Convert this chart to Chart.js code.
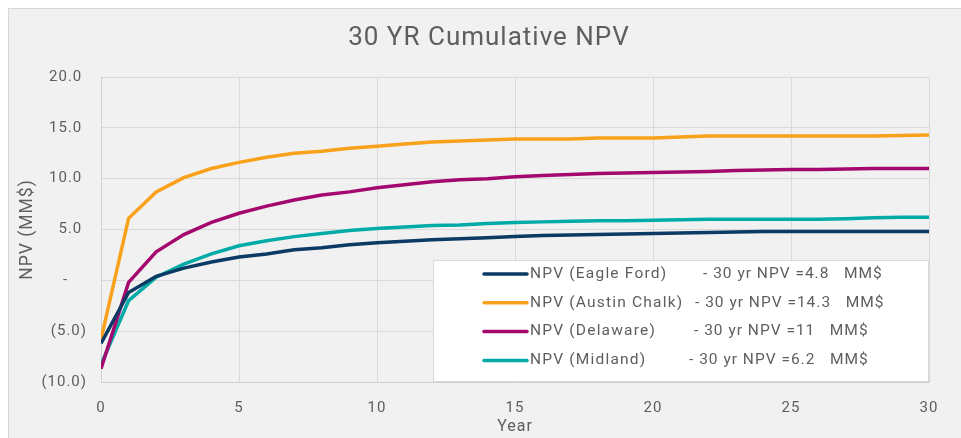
<!DOCTYPE html>
<html>
<head>
<meta charset="utf-8">
<script src="https://cdn.jsdelivr.net/npm/chart.js@4"></script>
<style>
  html, body { margin: 0; padding: 0; background: #fff; }
  #wrap { width: 961px; height: 438px; }
</style>
</head>
<body>
<div id="wrap"><canvas id="npvChart" width="961" height="438"></canvas></div>
<script>
const years = [];
for (let i = 0; i <= 30; i++) years.push(i);

const chartTitle = "30 YR Cumulative NPV";
const seriesNames = ["NPV (Eagle Ford)", "NPV (Austin Chalk)", "NPV (Delaware)", "NPV (Midland)"];
const npv30 = ["4.8", "14.3", "11", "6.2"];

const eagleFord = [-6.2, -1.2, 0.4, 1.2, 1.8, 2.3, 2.6, 3.0, 3.2, 3.5, 3.7, 3.85, 4.0, 4.1, 4.2, 4.3,
  4.4, 4.45, 4.5, 4.55, 4.6, 4.65, 4.7, 4.75, 4.8, 4.8, 4.8, 4.8, 4.8, 4.8, 4.8];
const austinChalk = [-5.8, 6.1, 8.7, 10.1, 11.0, 11.6, 12.1, 12.5, 12.7, 13.0, 13.2, 13.4, 13.6, 13.7, 13.8, 13.9,
  13.9, 13.9, 14.0, 14.0, 14.0, 14.1, 14.2, 14.2, 14.2, 14.2, 14.2, 14.2, 14.2, 14.25, 14.3];
const delaware = [-8.7, -0.2, 2.8, 4.5, 5.7, 6.6, 7.3, 7.9, 8.4, 8.7, 9.1, 9.4, 9.7, 9.9, 10.0, 10.2,
  10.3, 10.4, 10.5, 10.55, 10.6, 10.65, 10.7, 10.8, 10.85, 10.9, 10.9, 10.95, 11.0, 11.0, 11.0];
const midland = [-8.3, -2.0, 0.3, 1.6, 2.6, 3.4, 3.9, 4.3, 4.6, 4.9, 5.1, 5.25, 5.4, 5.45, 5.6, 5.7,
  5.75, 5.8, 5.85, 5.85, 5.9, 5.95, 6.0, 6.0, 6.0, 6.0, 6.0, 6.05, 6.15, 6.2, 6.2];

const colors = ["#0b3a64", "#f9a11b", "#a4086e", "#00aaa6"];
const allSeries = [eagleFord, austinChalk, delaware, midland];

const textColor = "#5e5e5e";
const fontFamily = "Roboto, 'DejaVu Sans', sans-serif";

// gray panel behind the chart + title (DIN-ish spacing)
const panelBg = {
  id: "panelBg",
  beforeDraw(chart) {
    const c = chart.ctx;
    c.save();
    c.fillStyle = "#ffffff";
    c.fillRect(0, 0, chart.width, chart.height);
    c.fillStyle = "#f1f1f1";
    c.fillRect(8, 8, chart.width, chart.height);
    c.strokeStyle = "#d6d6d6";
    c.lineWidth = 1;
    c.strokeRect(8.5, 8.5, chart.width, chart.height);
    c.fillStyle = textColor;
    c.font = "26px " + fontFamily;
    c.letterSpacing = "1px";
    c.textAlign = "center";
    c.textBaseline = "middle";
    c.fillText(chartTitle, 489, 38);
    c.restore();
    c.letterSpacing = "1px";
  },
};

// white legend box inside the plot area
const boxLegend = {
  id: "boxLegend",
  afterDatasetsDraw(chart) {
    const c = chart.ctx;
    const area = chart.chartArea;
    const x0 = 433, y0 = 260;
    const w = area.right - x0, h = area.bottom - y0;
    c.save();
    c.fillStyle = "#ffffff";
    c.fillRect(x0, y0, w, h);
    c.strokeStyle = "#d9d9d9";
    c.strokeRect(x0 + 0.5, y0 + 0.5, w - 1, h - 1);
    const tailX = [703, 695, 694, 689];
    c.font = "15.5px " + fontFamily;
    c.textBaseline = "middle";
    chart.data.datasets.forEach((ds, i) => {
      const y = 274 + i * 28.8;
      c.strokeStyle = ds.borderColor;
      c.lineWidth = 3.5;
      c.lineCap = "round";
      c.beginPath();
      c.moveTo(484, y);
      c.lineTo(527, y);
      c.stroke();
      c.fillStyle = textColor;
      c.letterSpacing = "1.2px";
      c.fillText(ds.label, 530, y);
      c.letterSpacing = "1px";
      c.fillText("- 30 yr NPV =" + npv30[i] + "   MM$", tailX[i], y);
    });
    c.restore();
  },
};

new Chart(document.getElementById("npvChart"), {
  type: "line",
  data: {
    datasets: allSeries.map((vals, i) => ({
      label: seriesNames[i],
      data: vals.map((v, k) => ({ x: years[k], y: v })),
      borderColor: colors[i],
      backgroundColor: colors[i],
      borderWidth: 3.5,
      pointRadius: 0,
      tension: 0,
      fill: false,
    })),
  },
  options: {
    responsive: false,
    animation: false,
    layout: { padding: { left: 8, top: 77, right: 32, bottom: 0 } },
    plugins: {
      legend: { display: false },
      tooltip: { enabled: false },
      title: { display: false },
    },
    scales: {
      x: {
        type: "linear",
        min: 0,
        max: 30,
        afterFit: (s) => { s.height = 56; },
        grid: { color: "#d9d9d9", drawTicks: false },
        border: { color: "#d0d0d0" },
        ticks: {
          stepSize: 5,
          padding: 17,
          color: textColor,
          font: { family: fontFamily, size: 15 },
        },
        title: {
          display: true,
          text: "Year",
          color: textColor,
          font: { family: fontFamily, size: 16 },
          padding: { top: 0, bottom: 1 },
        },
      },
      y: {
        min: -10,
        max: 20,
        afterFit: (s) => { s.width = 93; },
        grid: { color: "#d9d9d9", drawTicks: false },
        border: { color: "#d0d0d0" },
        ticks: {
          stepSize: 5,
          padding: 14,
          color: textColor,
          font: { family: fontFamily, size: 15 },
          callback: (v) => {
            if (v === 0) return "-    ";
            if (v < 0) return "(" + Math.abs(v).toFixed(1) + ")";
            return v.toFixed(1) + " ";
          },
        },
        title: {
          display: true,
          text: "NPV (MM$)",
          color: textColor,
          font: { family: fontFamily, size: 17.5 },
          padding: { top: 9, bottom: 0 },
        },
      },
    },
  },
  plugins: [panelBg, boxLegend],
});
</script>
</body>
</html>
